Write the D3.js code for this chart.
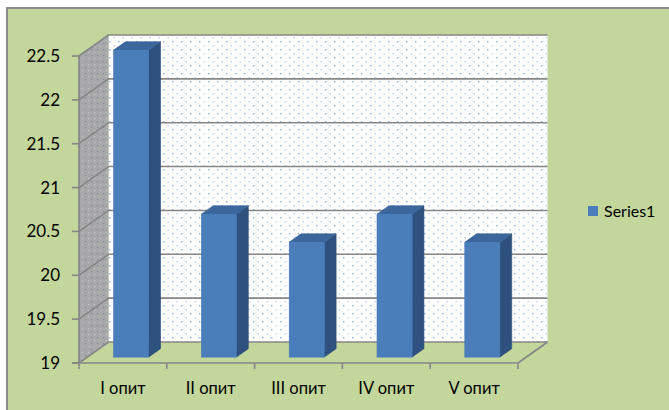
<!DOCTYPE html>
<html>
<head>
<meta charset="utf-8">
<script src="https://cdn.jsdelivr.net/npm/d3@7"></script>
<style>
    html, body { margin: 0; padding: 0; background: #ffffff; }
    #chart { width: 669px; height: 410px; }
    text { font-family: Lato, "Open Sans", sans-serif; fill: #000; }
</style>
</head>
<body>
<div id="chart"></div>
<script>
// chart data
const categories = ["I опит", "II опит", "III опит", "IV опит", "V опит"];
const values = [22.5, 20.63, 20.31, 20.63, 20.31];
const yTicks = [19, 19.5, 20, 20.5, 21, 21.5, 22, 22.5];
const seriesName = "Series1";

render();

function render() {
    const divID = d3.select('#chart');
    bar_chart_3d(divID, {
        width: 669,
        height: 410,
        plot: { left: 79, right: 518, top: 56, bottom: 363 },
        depth: { dx: 29.5, dy: -21 }
    });
}

function bar_chart_3d(selection, props) {
    const { width, height, plot, depth } = props;

    const svg = selection.append('svg')
        .attr('width', width)
        .attr('height', height);

    // patterns for the walls
    const defs = svg.append('defs');
    const backPat = defs.append('pattern')
        .attr('id', 'dots-back')
        .attr('patternUnits', 'userSpaceOnUse')
        .attr('width', 9).attr('height', 8);
    backPat.append('rect').attr('width', 9).attr('height', 8).attr('fill', '#ffffff');
    backPat.append('rect').attr('x', 1).attr('y', 1).attr('width', 1.4).attr('height', 1.4).attr('fill', '#8cb1e2');
    backPat.append('rect').attr('x', 5.5).attr('y', 5).attr('width', 1.4).attr('height', 1.4).attr('fill', '#b9cfee');

    const sidePat = defs.append('pattern')
        .attr('id', 'dots-side')
        .attr('patternUnits', 'userSpaceOnUse')
        .attr('width', 6).attr('height', 6);
    sidePat.append('rect').attr('width', 6).attr('height', 6).attr('fill', '#a8a8a8');
    sidePat.append('rect').attr('x', 1).attr('y', 1).attr('width', 1.2).attr('height', 1.2).attr('fill', '#7b8aa3');
    sidePat.append('rect').attr('x', 4).attr('y', 4).attr('width', 1.2).attr('height', 1.2).attr('fill', '#c0c4cc');

    // chart area background + border
    svg.append('rect')
        .attr('x', 7).attr('y', 8)
        .attr('width', width + 10).attr('height', height + 10)
        .attr('fill', '#c3d69b')
        .attr('stroke', '#8c8c8c')
        .attr('stroke-width', 2);

    const x = d3.scaleBand()
        .domain(categories)
        .range([plot.left, plot.right])
        .paddingInner(0)
        .paddingOuter(0);

    const y = d3.scaleLinear()
        .domain([yTicks[0], yTicks[yTicks.length - 1]])
        .range([plot.bottom, plot.top]);

    const g = svg.append('g');

    // back wall
    g.append('rect')
        .attr('x', plot.left + depth.dx)
        .attr('y', plot.top + depth.dy)
        .attr('width', plot.right - plot.left)
        .attr('height', plot.bottom - plot.top)
        .attr('fill', 'url(#dots-back)');

    // side wall
    g.append('path')
        .attr('d', d3.line()([
            [plot.left, plot.top],
            [plot.left + depth.dx, plot.top + depth.dy],
            [plot.left + depth.dx, plot.bottom + depth.dy],
            [plot.left, plot.bottom]
        ]) + 'Z')
        .attr('fill', 'url(#dots-side)');

    // gridlines on back + side wall
    yTicks.forEach(function (t) {
        const yy = y(t);
        g.append('path')
            .attr('d', d3.line()([
                [plot.left, yy],
                [plot.left + depth.dx, yy + depth.dy],
                [plot.right + depth.dx, yy + depth.dy]
            ]))
            .attr('fill', 'none')
            .attr('stroke', '#868686')
            .attr('stroke-width', 1.6);
    });

    // floor outline (right edge) and side wall front edge
    g.append('line')
        .attr('x1', plot.right).attr('y1', plot.bottom)
        .attr('x2', plot.right + depth.dx).attr('y2', plot.bottom + depth.dy)
        .attr('stroke', '#868686').attr('stroke-width', 1.6);
    g.append('line')
        .attr('x1', plot.left).attr('y1', plot.top)
        .attr('x2', plot.left).attr('y2', plot.bottom)
        .attr('stroke', '#868686').attr('stroke-width', 1.6);

    // bars: front face sits at 28% of depth, back at 68%
    const fF = 0.28, fB = 0.68;
    const barW = x.bandwidth() / 2.5;
    const ox1 = depth.dx * fF, oy1 = depth.dy * fF;
    const ox2 = depth.dx * fB, oy2 = depth.dy * fB;

    const bars = g.selectAll('.bar')
        .data(values.map((v, i) => ({ cat: categories[i], value: v })))
        .join('g')
        .attr('class', 'bar');

    bars.each(function (d) {
        const b = d3.select(this);
        const x0 = x(d.cat) + x.bandwidth() / 2 - barW / 2 + ox1;
        const x1 = x0 + barW;
        const yTop = y(d.value) + oy1;
        const yBot = y(yTicks[0]) + oy1;
        const ddx = ox2 - ox1, ddy = oy2 - oy1;

        // side face
        b.append('path')
            .attr('d', d3.line()([[x1, yTop], [x1 + ddx, yTop + ddy], [x1 + ddx, yBot + ddy], [x1, yBot]]) + 'Z')
            .attr('fill', '#2f5180')
            .attr('stroke', '#2a4a75').attr('stroke-width', 0.6);
        // top face
        b.append('path')
            .attr('d', d3.line()([[x0, yTop], [x0 + ddx, yTop + ddy], [x1 + ddx, yTop + ddy], [x1, yTop]]) + 'Z')
            .attr('fill', '#3b679c')
            .attr('stroke', '#355f92').attr('stroke-width', 0.6);
        // front face
        b.append('rect')
            .attr('x', x0).attr('y', yTop)
            .attr('width', barW).attr('height', yBot - yTop)
            .attr('fill', '#4a7ebb')
            .attr('stroke', '#4277b5').attr('stroke-width', 0.6);
    });

    // axes
    const axisG = svg.append('g');
    axisG.append('line')
        .attr('x1', plot.left - 7).attr('y1', plot.bottom)
        .attr('x2', plot.right).attr('y2', plot.bottom)
        .attr('stroke', '#868686').attr('stroke-width', 1.6);

    // y ticks + labels
    axisG.selectAll('.ytick')
        .data(yTicks)
        .join('line')
        .attr('class', 'ytick')
        .attr('x1', plot.left - 7).attr('x2', plot.left)
        .attr('y1', d => y(d)).attr('y2', d => y(d))
        .attr('stroke', '#868686').attr('stroke-width', 1.6);

    axisG.selectAll('.ylabel')
        .data(yTicks)
        .join('text')
        .attr('class', 'ylabel')
        .attr('x', plot.left - 19)
        .attr('y', d => y(d))
        .attr('dy', '0.35em')
        .attr('text-anchor', 'end')
        .style('font-size', '17px')
        .text(d => d);

    // x ticks + labels
    const xTickPos = categories.map(c => x(c)).concat([plot.right]);
    axisG.selectAll('.xtick')
        .data(xTickPos)
        .join('line')
        .attr('class', 'xtick')
        .attr('x1', d => d).attr('x2', d => d)
        .attr('y1', plot.bottom).attr('y2', plot.bottom + 6)
        .attr('stroke', '#868686').attr('stroke-width', 1.6);

    axisG.selectAll('.xlabel')
        .data(categories)
        .join('text')
        .attr('class', 'xlabel')
        .attr('x', d => x(d) + x.bandwidth() / 2)
        .attr('y', plot.bottom + 25)
        .attr('dy', '0.35em')
        .attr('text-anchor', 'middle')
        .style('font-size', '16.5px')
        .text(d => d);

    // legend
    const legend = svg.append('g').attr('transform', 'translate(588,206)');
    legend.append('rect')
        .attr('width', 10).attr('height', 10)
        .attr('fill', '#4a7ebb');
    legend.append('text')
        .attr('x', 16).attr('y', 5)
        .attr('dy', '0.35em')
        .style('font-size', '16px')
        .text(seriesName);
}
</script>
</body>
</html>
